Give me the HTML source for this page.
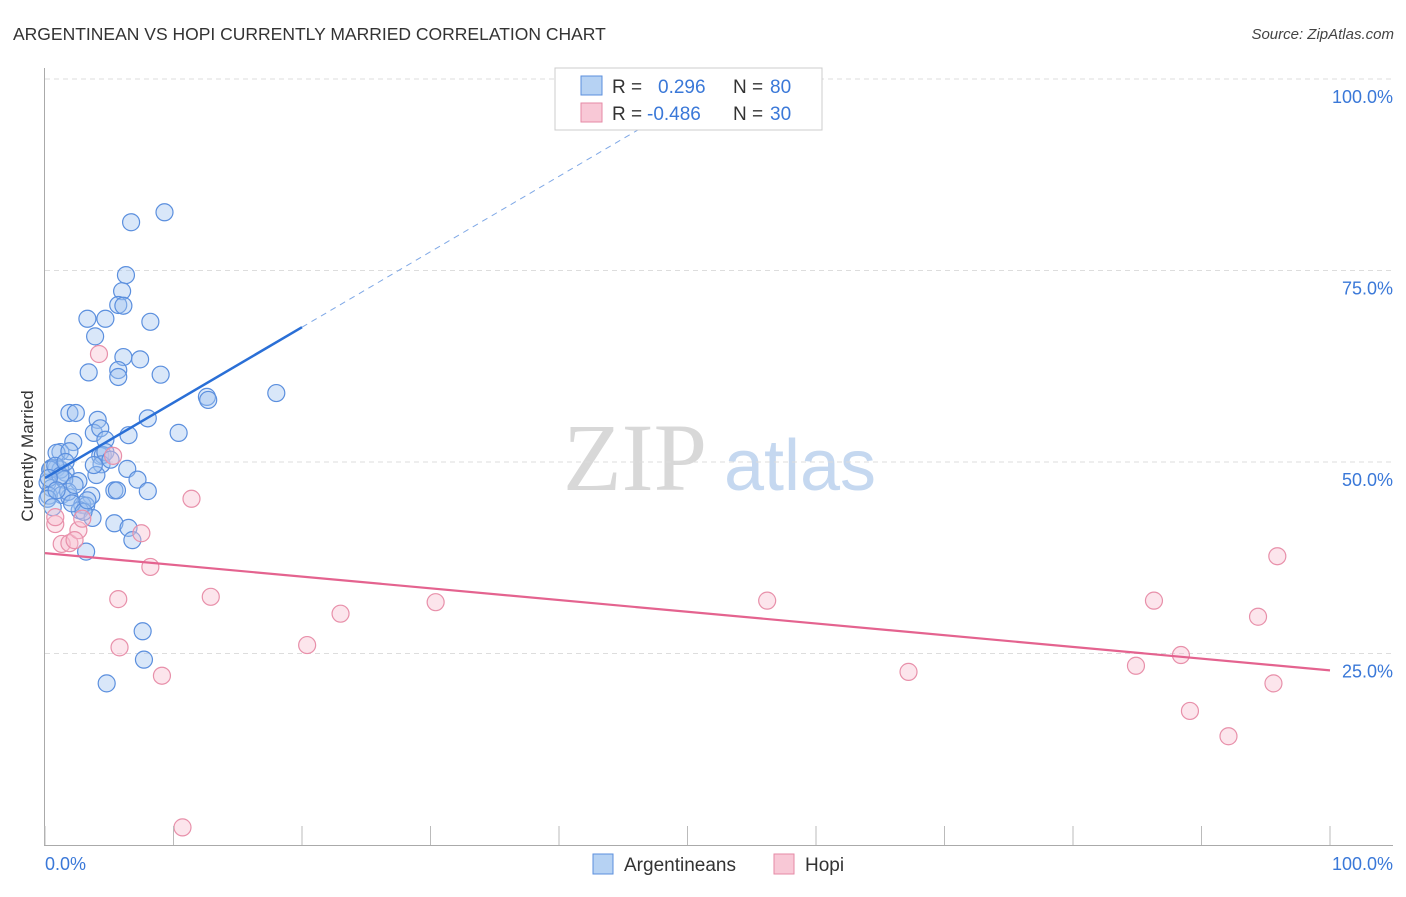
<!DOCTYPE html>
<html><head><meta charset="utf-8">
<style>
body{margin:0;background:#fff;width:1406px;height:892px;overflow:hidden;font-family:"Liberation Sans",sans-serif}
</style></head>
<body>
<svg id="chart" width="1406" height="892" xmlns="http://www.w3.org/2000/svg">
<text x="13" y="40" font-size="17.5" fill="#333" font-family="Liberation Sans, sans-serif">ARGENTINEAN VS HOPI CURRENTLY MARRIED CORRELATION CHART</text>
<text x="1394" y="39" font-size="15" fill="#444" font-style="italic" text-anchor="end">Source: ZipAtlas.com</text>
<text transform="translate(33,456) rotate(-90)" font-size="17" fill="#333" text-anchor="middle">Currently Married</text>
<g>
<text x="635" y="490" font-size="96" fill="#d8d8d8" font-family="Liberation Serif, serif" text-anchor="middle">ZIP</text>
<text x="800" y="490" font-size="72" fill="#c5d8f0" text-anchor="middle">atlas</text>
</g>
<g id="grid"></g>
<g id="marks"></g>
<g id="axes"></g>
<g>
<rect x="555" y="68" width="267" height="62" fill="#fff" stroke="#ccc"/>
<rect x="581" y="76" width="21" height="19" fill="#b6d2f3" stroke="#5b8fde"/>
<rect x="581" y="103" width="21" height="19" fill="#f8c8d6" stroke="#e68aa6"/>
<text x="612" y="93" font-size="19" fill="#333">R =</text>
<text x="658" y="93" font-size="19" fill="#3a78d8">0.296</text>
<text x="733" y="93" font-size="19" fill="#333">N =</text>
<text x="770" y="93" font-size="19" fill="#3a78d8">80</text>
<text x="612" y="120" font-size="19" fill="#333">R =</text>
<text x="647" y="120" font-size="19" fill="#3a78d8">-0.486</text>
<text x="733" y="120" font-size="19" fill="#333">N =</text>
<text x="770" y="120" font-size="19" fill="#3a78d8">30</text>
</g>
<g>
<rect x="593" y="854" width="20" height="20" fill="#b6d2f3" stroke="#5b8fde"/>
<text x="624" y="871" font-size="19" fill="#333">Argentineans</text>
<rect x="774" y="854" width="20" height="20" fill="#f8c8d6" stroke="#e68aa6"/>
<text x="805" y="871" font-size="19" fill="#333">Hopi</text>
</g>
</svg>
<script>
const blueX=[9.3,6.7,6.3,6.0,5.7,6.1,3.3,8.2,4.7,3.9,6.1,7.4,5.7,5.7,3.4,9.0,12.6,12.7,18.0,8.0,1.9,2.4,4.1,3.8,4.3,6.5,10.4,2.2,4.7,1.2,0.9,1.9,4.3,4.5,4.7,4.4,6.4,0.9,0.5,1.6,1.2,4.0,2.6,7.2,0.2,0.5,5.4,5.6,8.0,0.3,1.3,1.9,3.6,0.2,0.6,2.9,3.2,2.7,3.7,5.4,6.5,6.8,3.2,7.6,7.7,4.8,0.4,0.8,1.5,1.8,2.1,3.0,1.2,2.3,3.3,5.1,0.3,0.9,1.6,3.8];
const blueY=[82.6,81.3,74.4,72.3,70.5,70.4,68.7,68.3,68.7,66.4,63.7,63.4,62.0,61.1,61.7,61.4,58.5,58.1,59.0,55.7,56.4,56.4,55.5,53.8,54.4,53.5,53.8,52.6,52.9,51.3,51.2,51.4,50.8,50.9,51.3,49.7,49.1,49.2,49.2,48.6,49.0,48.3,47.5,47.7,47.3,46.6,46.3,46.3,46.2,45.6,45.7,45.4,45.6,45.2,44.1,44.4,44.3,43.7,42.7,42.0,41.4,39.8,38.3,27.9,24.2,21.1,49.0,49.5,47.7,46.1,44.6,43.5,48.2,47.0,45.0,50.3,47.9,46.3,50.0,49.6];
const pinkX=[4.2,11.4,5.3,0.8,0.8,1.3,1.9,2.6,2.9,7.5,8.2,5.7,12.9,23.0,30.4,5.8,20.4,9.1,56.2,67.2,86.3,95.9,94.4,84.9,88.4,95.6,89.1,92.1,10.7,2.3];
const pinkY=[64.1,45.2,50.8,41.9,42.8,39.3,39.4,41.1,42.6,40.7,36.3,32.1,32.4,30.2,31.7,25.8,26.1,22.1,31.9,22.6,31.9,37.7,29.8,23.4,24.8,21.1,17.5,14.2,2.3,39.8];
const blueTrend=[47.9,0.985];
const pinkTrend=[38.1,-0.153];
const yTicks=[25,50,75,100];
const yTickLabels=["25.0%","50.0%","75.0%","100.0%"];
const xTicks=[0,10,20,30,40,50,60,70,80,90,100];
const NS="http://www.w3.org/2000/svg";
const X=v=>45+v*12.85, Y=v=>845-v*7.66;
function mk(p,t,a){const e=document.createElementNS(NS,t);for(const k in a)e.setAttribute(k,a[k]);p.appendChild(e);return e;}
const grid=document.getElementById('grid'),marks=document.getElementById('marks'),axes=document.getElementById('axes');
yTicks.forEach((t,i)=>{
 const l=mk(grid,'line',{x1:45,x2:1393,y1:Y(t),y2:Y(t),stroke:'#ddd','stroke-dasharray':'5,4'});
 
 
 const tx=mk(axes,'text',{x:1393,y:Y(t)+24,'font-size':18,fill:'#3a78d8','text-anchor':'end'});
 tx.textContent=yTickLabels[i];
 
 
});
const ya=mk(axes,'line',{x1:44.5,x2:44.5,y1:68,y2:845,stroke:'#aaa'});


const xa=mk(axes,'line',{x1:44,x2:1393,y1:845.5,y2:845.5,stroke:'#aaa'});


xTicks.forEach(t=>{
 const l=mk(axes,'line',{x1:X(t),x2:X(t),y1:826,y2:845,stroke:'#bbb'});
 
 
});
const x0=mk(axes,'text',{x:45,y:870,'font-size':18,fill:'#3a78d8'});x0.textContent='0.0%';


const x1=mk(axes,'text',{x:1393,y:870,'font-size':18,fill:'#3a78d8','text-anchor':'end'});x1.textContent='100.0%';


blueX.forEach((v,i)=>{
 const c=mk(marks,'circle',{cx:X(v),cy:Y(blueY[i]),r:8.5,fill:'rgba(160,196,240,0.4)',stroke:'#5b8fde','stroke-width':1.2});
 
 
});
pinkX.forEach((v,i)=>{
 const c=mk(marks,'circle',{cx:X(v),cy:Y(pinkY[i]),r:8.5,fill:'rgba(248,190,208,0.4)',stroke:'#e890aa','stroke-width':1.2});
 
 
});
const bEnd=20, bDash=(100-blueTrend[0])/blueTrend[1];
const bl=mk(marks,'line',{x1:X(0),y1:Y(blueTrend[0]),x2:X(bEnd),y2:Y(blueTrend[0]+blueTrend[1]*bEnd),stroke:'#2a6fd6','stroke-width':2.5});


const bd=mk(marks,'line',{x1:X(bEnd),y1:Y(blueTrend[0]+blueTrend[1]*bEnd),x2:X(bDash),y2:Y(100),stroke:'#7fa8e6','stroke-width':1,'stroke-dasharray':'6,5'});


const pl=mk(marks,'line',{x1:X(0),y1:Y(pinkTrend[0]),x2:X(100),y2:Y(pinkTrend[0]+pinkTrend[1]*100),stroke:'#e4638f','stroke-width':2.2});


</script>
</body></html>
